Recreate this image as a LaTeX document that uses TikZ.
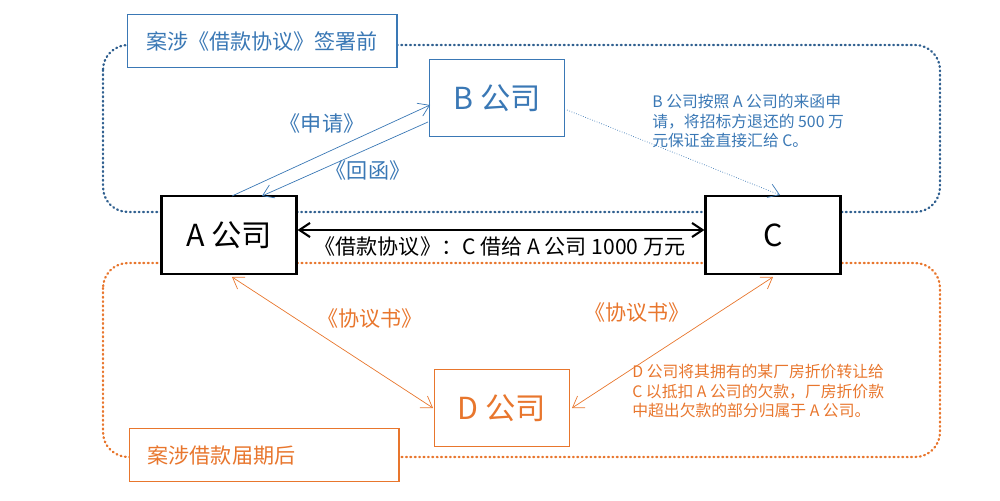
\documentclass[tikz,border=0pt]{standalone}
\usepackage{fontspec}
\setmainfont{Noto Sans CJK SC}
\usetikzlibrary{arrows.meta}
\definecolor{bl}{HTML}{3A78B5}
\definecolor{bdot}{HTML}{2F5F8F}
\definecolor{or}{HTML}{E8762D}
\begin{document}
\begin{tikzpicture}[x=0.02cm,y=-0.02cm,
 box/.style={draw,thick,minimum width=2.7cm,minimum height=1.55cm,font=\LARGE},
 lbl/.style={draw,semithick,minimum width=5.4cm,minimum height=1.05cm,font=\large,inner sep=4pt},
 ar/.style={-{Straight Barb[length=6pt,width=8pt]}},
 dar/.style={{Straight Barb[length=6pt,width=8pt]}-{Straight Barb[length=6pt,width=8pt]}},
 note/.style={font=\small,align=left,inner sep=0pt}]
\useasboundingbox (0,0) rectangle (1000,500);
\draw[bdot,line width=1.3pt,dash pattern=on 0.5pt off 2pt,line cap=round,rounded corners=0.5cm] (103,45) rectangle (940,212);
\draw[or,line width=1.3pt,dash pattern=on 0.5pt off 2pt,line cap=round,rounded corners=0.5cm] (103,263) rectangle (940,457);
\node[lbl,bl,fill=white] (lb) at (262,41) {案涉《借款协议》签署前};
\node[lbl,or,fill=white] (lo) at (264,455) {\hspace*{-1.7cm}案涉借款届期后};
\node[box,bl,semithick] (B) at (497,98) {B 公司};
\node[box,very thick,fill=white] (A) at (229,235) {A 公司};
\node[box,very thick,fill=white] (C) at (773,235) {C};
\node[box,or,semithick] (D) at (502,408) {D 公司};
\coordinate (a1) at (232,196); \coordinate (b1) at (430,105);
\coordinate (b2) at (428,122); \coordinate (a2) at (262,196);
\draw[bl,ar] (a1) -- (b1);
\draw[bl,ar] (b2) -- (a2);
\node[bl,font=\large] (t1) at (322,123) {《申请》};
\node[bl,font=\large] (t2) at (368,170) {《回函》};
\coordinate (b3) at (567,110); \coordinate (c3) at (780,195);
\draw[bl,densely dotted,ar] (b3) -- (c3);
\node[note,bl,anchor=north west] (n1) at (652,94) {B 公司按照 A 公司的来函申\\请，将招标方退还的 500 万\\元保证金直接汇给 C。};
\draw[very thick,dar] (A.east|-0,230) -- (C.west|-0,230);
\node[font=\large] (t3) at (500,246) {《借款协议》：C 借给 A 公司 1000 万元};
\coordinate (a4) at (232,277); \coordinate (d4) at (433,408);
\coordinate (c5) at (773,277); \coordinate (d5) at (572,408);
\draw[or,dar] (a4) -- (d4);
\draw[or,dar] (c5) -- (d5);
\node[or,font=\large] (t4) at (370,318) {《协议书》};
\node[or,font=\large] (t5) at (637,312) {《协议书》};
\node[note,or,anchor=north west] (n2) at (632,364) {D 公司将其拥有的某厂房折价转让给\\C 以抵扣 A 公司的欠款，厂房折价款\\中超出欠款的部分归属于 A 公司。};
\end{tikzpicture}
\end{document}
